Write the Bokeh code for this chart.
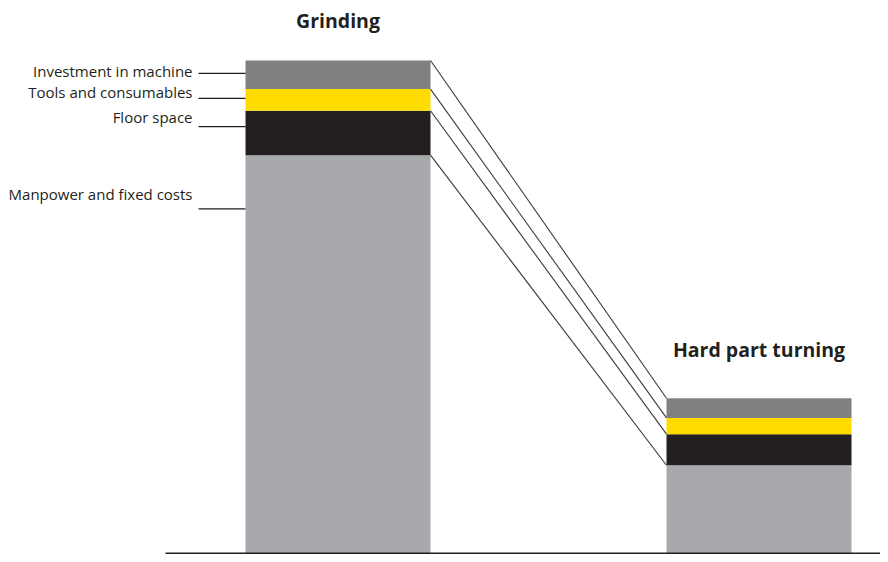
from bokeh.plotting import figure
from bokeh.models import Range1d, ColumnDataSource
from bokeh.core.properties import value
from bokeh.embed import file_html
from bokeh.resources import INLINE

# ---- data ----
processes = ["Grinding", "Hard part turning"]
components = ["Manpower and fixed costs", "Floor space", "Tools and consumables", "Investment in machine"]
manpower = [80.8, 17.9]
floor_space = [9.0, 6.3]
tools = [4.4, 3.3]
investment = [5.8, 4.0]
# label anchor heights (value units) for the annotation leader lines on the left
leader_y = [69.9, 86.6, 92.3, 97.4]
label_y = [73.0, 88.6, 93.6, 97.9]

colors = ["#a7a9ac", "#231f20", "#ffdc00", "#808080"]
ink = "#231f20"

W, H = 880, 554
base_px = 553   # screen y of value 0
top_px = 60     # screen y of value 100
k = (base_px - top_px) / 100.0
y_end = 100 + top_px / k
y_start = -(H - base_px) / k

p = figure(width=W, height=H, output_backend="svg", toolbar_location=None,
           x_range=Range1d(0, W), y_range=Range1d(y_start, y_end),
           min_border=0, min_border_left=0, min_border_right=0,
           min_border_top=0, min_border_bottom=0)
p.axis.visible = False
p.grid.visible = False
p.outline_line_color = None
p.background_fill_color = "white"
p.border_fill_color = "white"

bar_left = [245, 666]
bar_width = 185
centers = [l + bar_width / 2 for l in bar_left]

series = [manpower, floor_space, tools, investment]
bottoms = [0.0, 0.0]
tops_by_series = []
for vals, col in zip(series, colors):
    tops = [b + v for b, v in zip(bottoms, vals)]
    src = ColumnDataSource(dict(x=centers, bottom=bottoms, top=tops))
    p.vbar(x="x", bottom="bottom", top="top", width=bar_width, source=src,
           fill_color=col, line_color=None)
    tops_by_series.append(tops)
    bottoms = tops

# connectors from grinding segment tops to turning segment tops
x0 = bar_left[0] + bar_width
x1 = bar_left[1]
p.segment(x0=[x0] * 4, y0=[t[0] for t in tops_by_series],
          x1=[x1] * 4, y1=[t[1] for t in tops_by_series],
          line_color="#3a3a3a", line_width=1.1)

# baseline
p.segment(x0=[165], y0=[0], x1=[W], y1=[0], line_color=ink, line_width=2.2)

# left labels with leader lines
p.segment(x0=[198] * 4, y0=leader_y, x1=[bar_left[0]] * 4, y1=leader_y,
          line_color=ink, line_width=1.2)
p.text(x=[192] * 4, y=label_y, text=components, text_align="right",
       text_baseline="middle", text_font=value("Open Sans"),
       text_font_size="15px", text_color=ink)

# process titles
title_y = [tops_by_series[-1][0] + (60 - 20) / k, tops_by_series[-1][1] + (402.5 - 354) / k]
p.text(x=centers, y=title_y, text=processes, text_align="center",
       text_baseline="middle", text_font=value("Open Sans"),
       text_font_size="19.5px", text_color=ink, text_font_style="bold")

open("out.html", "w").write(file_html(p, INLINE))
